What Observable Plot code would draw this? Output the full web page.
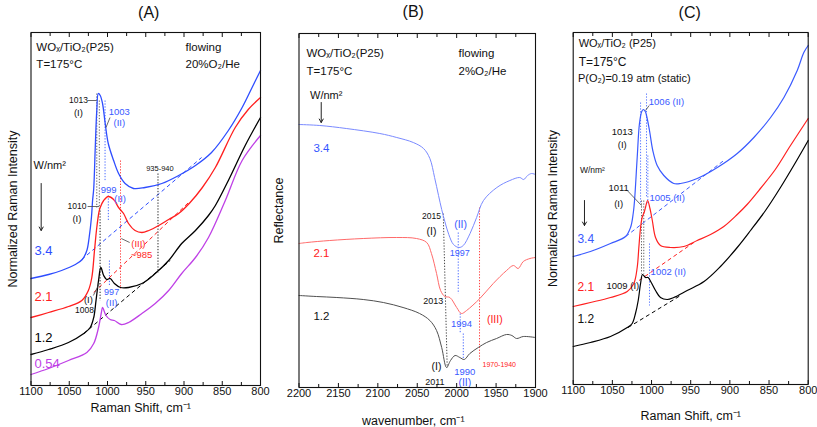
<!DOCTYPE html>
<html><head><meta charset="utf-8">
<script src="https://cdn.jsdelivr.net/npm/d3@7"></script>
<script src="https://cdn.jsdelivr.net/npm/@observablehq/plot@0.6"></script>
<style>
body{margin:0;background:#fff;}
#wrap{position:relative;width:817px;height:427px;overflow:hidden;background:#fff;}
#wrap svg{position:absolute;top:0;}
</style></head><body><div id="wrap"></div>
<script>
// ---------- Panel A data (Raman shift cm-1, normalized intensity a.u.) ----------
const A_major = [1100,1050,1000,950,900,850,800];
const A_minor = [1075,1025,975,925,875,825];
const A_34 = [[1100,107],[1077,111],[1060,115],[1042,121],[1033,126],[1027,135],[1024,148],[1021,168],[1019.5,185],[1018,197],[1016,238],[1014,275],[1012,292],[1009.5,290],[1006.5,282],[1003,262],[999,242],[992,225],[985.5,212],[977,202],[966,197],[951,198],[929,202],[907,210],[885,220],[864,233],[842,255],[824,278],[811,298],[800,315]];
const A_21 = [[1100,68],[1077,73],[1051,79],[1033.5,85],[1025,95],[1020.5,108],[1017,135],[1014,158],[1011,174],[1009.5,178],[1005,185],[999,189],[992,186],[985.5,178],[979,172],[972.5,162],[964,155],[955,153],[946,155],[933,160],[920,166],[907,172],[892,183],[876,198],[859,218],[833,258],[816,276],[800,288]];
const A_12 = [[1100,31],[1077,36],[1051,43],[1031,52],[1022.6,58],[1018,68],[1015,85],[1011.7,105],[1008.7,118],[1005,110],[1001,106],[996.5,107],[991,102],[983,98],[972.5,98],[955,102],[937.6,112],[920,125],[903,142],[885,155],[868,170],[859,180],[842,205],[820,240],[800,268]];
const A_054 = [[1100,11],[1077,17],[1051,25],[1027,33],[1018,42],[1011.7,58],[1008,73],[1006.5,78],[1002,70],[996.5,66],[991,65],[982,61],[972.5,63],[955,72],[937.6,82],[920,95],[903,112],[885,128],[868,148],[846,185],[824,225],[800,250]];
const A_dashed = [[1033.7,126,877,228,"#2e4dff"],[1018,93,894,183,"#ff1f1f"],[1031,52,918,125,"#000"]];
const A_dotted = [[1014,292,1014,178,"#666"],[1010.7,285,1010.7,175,"#666"],[1009.7,175,1009.7,85,"#222"],[1003.2,285,1003.2,205,"#4a6aff"],[998.9,190,998.9,165,"#4a6aff"],[997.5,125,997.5,100,"#4a6aff"],[983,225,983,97,"#ff4040"],[934,212,934,113,"#222"]];
const A_leaders = [[1025.9,285,1014.2,285],[996.7,268,1002,258],[1026,179,1011,179],[982,147,971,143],[1018.5,90,1010.7,102]];
const A_labelsStart = [["WOₓ/TiO₂(P25)",1093,338,"#111",11.5],["T=175°C",1093,321,"#111",11.5],["flowing",898,338,"#111",11.5],["20%O₂/He",898,321,"#111",11.5],["W/nm²",1096.7,220,"#111",11],["3.4",1095.5,135,"#2e4dff",13],["2.1",1095.5,89,"#ff1f1f",13],["1.2",1095.5,48,"#000",13],["0.54",1095.5,22,"#bf40e6",13]];
const A_labelsMid = [["1013",1038,285,"#111",8.5],["(I)",1038,273,"#111",9.5],["1003",984.6,274,"#3a5aff",9.5],["(II)",984.6,263,"#3a5aff",9.5],["999",998.5,196,"#3a5aff",9.5],["(II)",983.5,187,"#3a5aff",9.5],["1010",1040,179,"#111",8.5],["(I)",1040,167,"#111",9.5],["935-940",931.5,217,"#111",7.5],["(III)",959.6,142,"#ff1f1f",9.5],["~985",955.5,131,"#ff1f1f",9.5],["(I)",1025,86,"#111",9.5],["1008",1030,75,"#111",8.5],["997",994.6,93,"#3a5aff",9],["(II)",994.6,83,"#3a5aff",9.5]];
const A_arrow = [[1086.7,202,1086.7,155]];

// ---------- Panel B data (wavenumber cm-1, reflectance a.u.) ----------
const B_major = [2200,2150,2100,2050,2000,1950,1900];
const B_minor = [2175,2125,2075,2025,1975,1925];
const B_34 = [[2200,263],[2173.6,262],[2140,259],[2097.5,254],[2076,250],[2055,245],[2042,239],[2034,229],[2028,210],[2023,192],[2019,178],[2015,166],[2010,153],[2004,143],[1997,140],[1991.6,142],[1983,154],[1974.7,170],[1966,187],[1949,200],[1932.5,207],[1920,210],[1915,208],[1910,212],[1905,214],[1900,213]];
const B_21 = [[2200,144],[2190,145],[2161,147],[2118.5,149],[2076,150],[2051,149],[2038,145],[2032,134],[2025.5,114],[2020.4,97],[2015,91],[2008.6,90],[2000,80],[1994,74],[1987.4,77],[1970.6,89],[1953.6,104],[1936.7,117],[1928,122],[1922,119],[1915.5,126],[1907,129],[1900,130]];
const B_12 = [[2200,92],[2178,91],[2152,90],[2118.5,88],[2093,85],[2068,80],[2047,74],[2034,67],[2025.5,57],[2019,40],[2012.8,20],[2007.8,27],[2002,32],[1996,30],[1990.4,28],[1983.3,34],[1972.6,40],[1962,45],[1949.4,49],[1936.7,53],[1930,52],[1924,49],[1915.5,51],[1900,50]];
const B_dashed = [];
const B_dotted = [[2017,174,2012,20,"#444"],[1998,155,1998,94,"#4a6aff"],[1995.5,74,1995.5,54,"#4a6aff"],[1991.6,54,1991.6,28,"#4a6aff"],[1971,180,1971,27,"#ff4040"]];
const B_leaders = [];
const B_labelsStart = [["WOₓ/TiO₂(P25)",2190.5,334,"#111",11.5],["T=175°C",2190.5,316,"#111",11.5],["flowing",1997.7,334,"#111",11.5],["2%O₂/He",1997.7,316,"#111",11.5]];
const B_labelsMid = [["W/nm²",2165.5,292,"#111",11],["3.4",2171.5,239,"#3355ff",11.5],["2.1",2171.5,134,"#ff2020",11.5],["1.2",2171.5,71,"#111",11.5],["2015",2032,171,"#111",8.5],["(I)",2032,156,"#111",10.5],["(II)",1995,163,"#3a5aff",10.5],["1997",1996,134,"#3a5aff",9],["2013",2029.8,86,"#111",9],["1994",1993.9,64,"#3a5aff",9.5],["(III)",1951.6,68,"#ff2020",10.5],["(I)",2025.6,21,"#111",10.5],["2011",2027.7,5,"#111",9],["1990",1989.7,16,"#3a5aff",9.5],["(II)",1989.7,5,"#3a5aff",10.5],["1970-1940",1946,23,"#ff2020",7]];
const B_arrow = [[2171.8,285,2171.8,265]];

// ---------- Panel C data (Raman shift cm-1, normalized intensity a.u.) ----------
const C_major = [1100,1050,1000,950,900,850,800];
const C_minor = [1075,1025,975,925,875,825];
const C_34 = [[1100,128],[1078,133],[1052.4,141],[1033.2,148],[1026.8,157],[1023.4,171],[1021.7,184],[1018.3,227],[1015.4,261],[1012.5,273],[1010.6,275],[1008,273],[1006.4,269],[1002.6,254],[998.4,234],[992.8,219],[984.3,209],[971.6,201],[963,201],[941.7,206],[916,217],[890.6,231],[869.4,247],[848,267],[831,287],[814,314],[805.6,332],[800,339]];
const C_21 = [[1100,78],[1078,82],[1052.4,87],[1031,93],[1022.6,101],[1018.3,117],[1016.2,137],[1014,157],[1012,167],[1009.5,172],[1007.7,177],[1005,184],[1002,176],[999,164],[994.9,147],[988.6,139],[975.8,137],[958.8,138],[941.7,144],[924.7,150],[907.7,158],[890.6,170],[878,180],[861,196],[842,215],[822.6,239],[800,266]];
const C_12 = [[1100,38],[1078,42],[1052.4,48],[1031,57],[1024.7,61],[1020.5,71],[1017,84],[1014,101],[1011.5,110],[1007.7,107],[1004.3,107],[1000.4,102],[994.9,94],[988.6,87],[980,85],[971.6,87],[954.5,94],[933,103],[912,118],[890.6,137],[873.6,154],[854.5,174],[835.4,197],[816.2,222],[800,244]];
const C_dashed = [[1033,148,907.7,224,"#3a5aff"],[1016,104,946,142,"#ff2020"],[1030,57,963,89,"#000"]];
const C_dotted = [[1014,282,1014,181,"#5a78ff"],[1006.4,291,1006.4,187,"#5a78ff"],[1012.8,184,1012.8,111,"#666"],[1009.9,184,1009.9,111,"#666"],[1004.7,229,1004.7,181,"#5a78ff"],[1002.6,141,1002.6,79,"#5a78ff"]];
const C_leaders = [[1003,279,1007.7,274],[1031,194,1012.8,179]];
const C_labelsStart = [["WOₓ/TiO₂ (P25)",1093,341,"#111",11],["T=175°C",1093,322,"#111",12],["P(O₂)=0.19 atm (static)",1094,306,"#111",11],["1006 (II)",1003.5,283,"#3a5aff",9.5],["1005 (II)",1002.6,187,"#3a5aff",9.5],["1009 (I)",1057.5,99,"#111",9.5],["1002 (II)",1001.2,113,"#3a5aff",9.5]];
const C_labelsMid = [["W/nm²",1075.5,214,"#111",8.5],["3.4",1084,145,"#3a5aff",12],["2.1",1084,97,"#ff2020",12],["1.2",1084,65,"#111",12],["1013",1037.4,253,"#111",9.5],["(I)",1037.4,240,"#111",9.5],["1011",1042,197,"#111",9.5],["(I)",1042,181,"#111",9.5]];
const C_arrow = [[1085.6,184,1085.6,159]];

const FONT = '"Liberation Sans", Arial, sans-serif';
const nofmt = () => "";

function panel(c) {
  const L = (arr, opts) => Plot.link(arr, {x1: d => d[0], y1: d => d[1], x2: d => d[2], y2: d => d[3], ...opts});
  const T = (arr, anchor) => Plot.text(arr, {text: d => d[0], x: d => d[1], y: d => d[2], fill: d => d[3], fontSize: d => d[4], textAnchor: anchor});
  const marks = [
    Plot.axisX({ticks: c.major, anchor: "bottom", tickSize: -4, tickPadding: 6, fontSize: 11, label: null, tickFormat: d => String(d)}),
    Plot.axisX({ticks: c.minor, anchor: "bottom", tickSize: -3, tickFormat: nofmt, label: null}),
    Plot.axisX({ticks: c.major, anchor: "top", tickSize: -4, tickFormat: nofmt, label: null}),
    Plot.axisX({ticks: c.minor, anchor: "top", tickSize: -3, tickFormat: nofmt, label: null}),
    L(c.dashed, {stroke: d => d[4], strokeDasharray: "4,3", strokeWidth: 1}),
    L(c.dotted, {stroke: d => d[4], strokeDasharray: "1.3,1.6", strokeWidth: 1}),
    ...c.series.map(s => Plot.line(s.data, {x: d => d[0], y: d => d[1], stroke: s.color, strokeWidth: c.lw, curve: "catmull-rom"})),
    L(c.leaders, {stroke: "#444", strokeWidth: 0.8}),
    Plot.arrow(c.arrow, {x1: d => d[0], y1: d => d[1], x2: d => d[2], y2: d => d[3], stroke: "#222", strokeWidth: 1, headLength: 6}),
    T(c.labelsStart, "start"),
    T(c.labelsMid, "middle"),
    Plot.text([c.title], {frameAnchor: "top", dy: c.titleDy, dx: c.titleDx, fontSize: 16, fill: "#111", textAnchor: "middle", lineAnchor: "middle"}),
    Plot.text([c.xlabel], {frameAnchor: "bottom", dy: c.xlabelDy, dx: c.xlabelDx, fontSize: 12.5, fill: "#111", textAnchor: "middle", lineAnchor: "middle"}),
    Plot.text([c.ylabel], {frameAnchor: "left", dx: c.ylabelDx, rotate: -90, fontSize: 12.5, fill: "#111", textAnchor: "middle", lineAnchor: "middle"}),
    Plot.frame({stroke: "#111", strokeWidth: 1.1})
  ];
  const svg = Plot.plot({
    width: c.width, height: 427,
    marginLeft: c.ml, marginRight: c.mr, marginTop: c.mt, marginBottom: c.mb,
    x: {domain: c.xDomain},
    y: {domain: [0, c.yMax], axis: null},
    color: {type: "identity"},
    style: {fontFamily: FONT, background: "transparent", overflow: "visible", color: "#111"},
    marks
  });
  svg.style.left = c.left + "px";
  return svg;
}

const wrap = document.getElementById("wrap");
wrap.appendChild(panel({
  left: 0, width: 270, ml: 30.5, mr: 10, mt: 32, mb: 42, xDomain: [1100, 800], yMax: 353,
  major: A_major, minor: A_minor, lw: 1.3,
  series: [{data: A_34, color: "#2e4dff"}, {data: A_21, color: "#ff1f1f"}, {data: A_12, color: "#000"}, {data: A_054, color: "#bf40e6"}],
  dashed: A_dashed, dotted: A_dotted, leaders: A_leaders, labelsStart: A_labelsStart, labelsMid: A_labelsMid, arrow: A_arrow,
  title: "(A)", titleDx: 3, titleDy: -20, xlabel: "Raman Shift, cm⁻¹", xlabelDx: -5, xlabelDy: 22,
  ylabel: "Normalized Raman Intensity", ylabelDx: -18
}));
wrap.appendChild(panel({
  left: 270, width: 270, ml: 28.5, mr: 5, mt: 33, mb: 40, xDomain: [2200, 1900], yMax: 354,
  major: B_major, minor: B_minor, lw: 1,
  series: [{data: B_34, color: "#7a8aff"}, {data: B_21, color: "#ff6a6a"}, {data: B_12, color: "#505050"}],
  dashed: B_dashed, dotted: B_dotted, leaders: B_leaders, labelsStart: B_labelsStart, labelsMid: B_labelsMid, arrow: B_arrow,
  title: "(B)", titleDx: -4, titleDy: -22, xlabel: "wavenumber, cm⁻¹", xlabelDx: -4, xlabelDy: 33,
  ylabel: "Reflectance", ylabelDx: -20
}));
wrap.appendChild(panel({
  left: 540, width: 277, ml: 32.7, mr: 9.3, mt: 32, mb: 43, xDomain: [1100, 800], yMax: 352,
  major: C_major, minor: C_minor, lw: 1.2,
  series: [{data: C_34, color: "#3a5aff"}, {data: C_21, color: "#ff2020"}, {data: C_12, color: "#000"}],
  dashed: C_dashed, dotted: C_dotted, leaders: C_leaders, labelsStart: C_labelsStart, labelsMid: C_labelsMid, arrow: C_arrow,
  title: "(C)", titleDx: -1, titleDy: -20, xlabel: "Raman Shift, cm⁻¹", xlabelDx: 0, xlabelDy: 31,
  ylabel: "Normalized Raman Intensity", ylabelDx: -20
}));
</script></body></html>
